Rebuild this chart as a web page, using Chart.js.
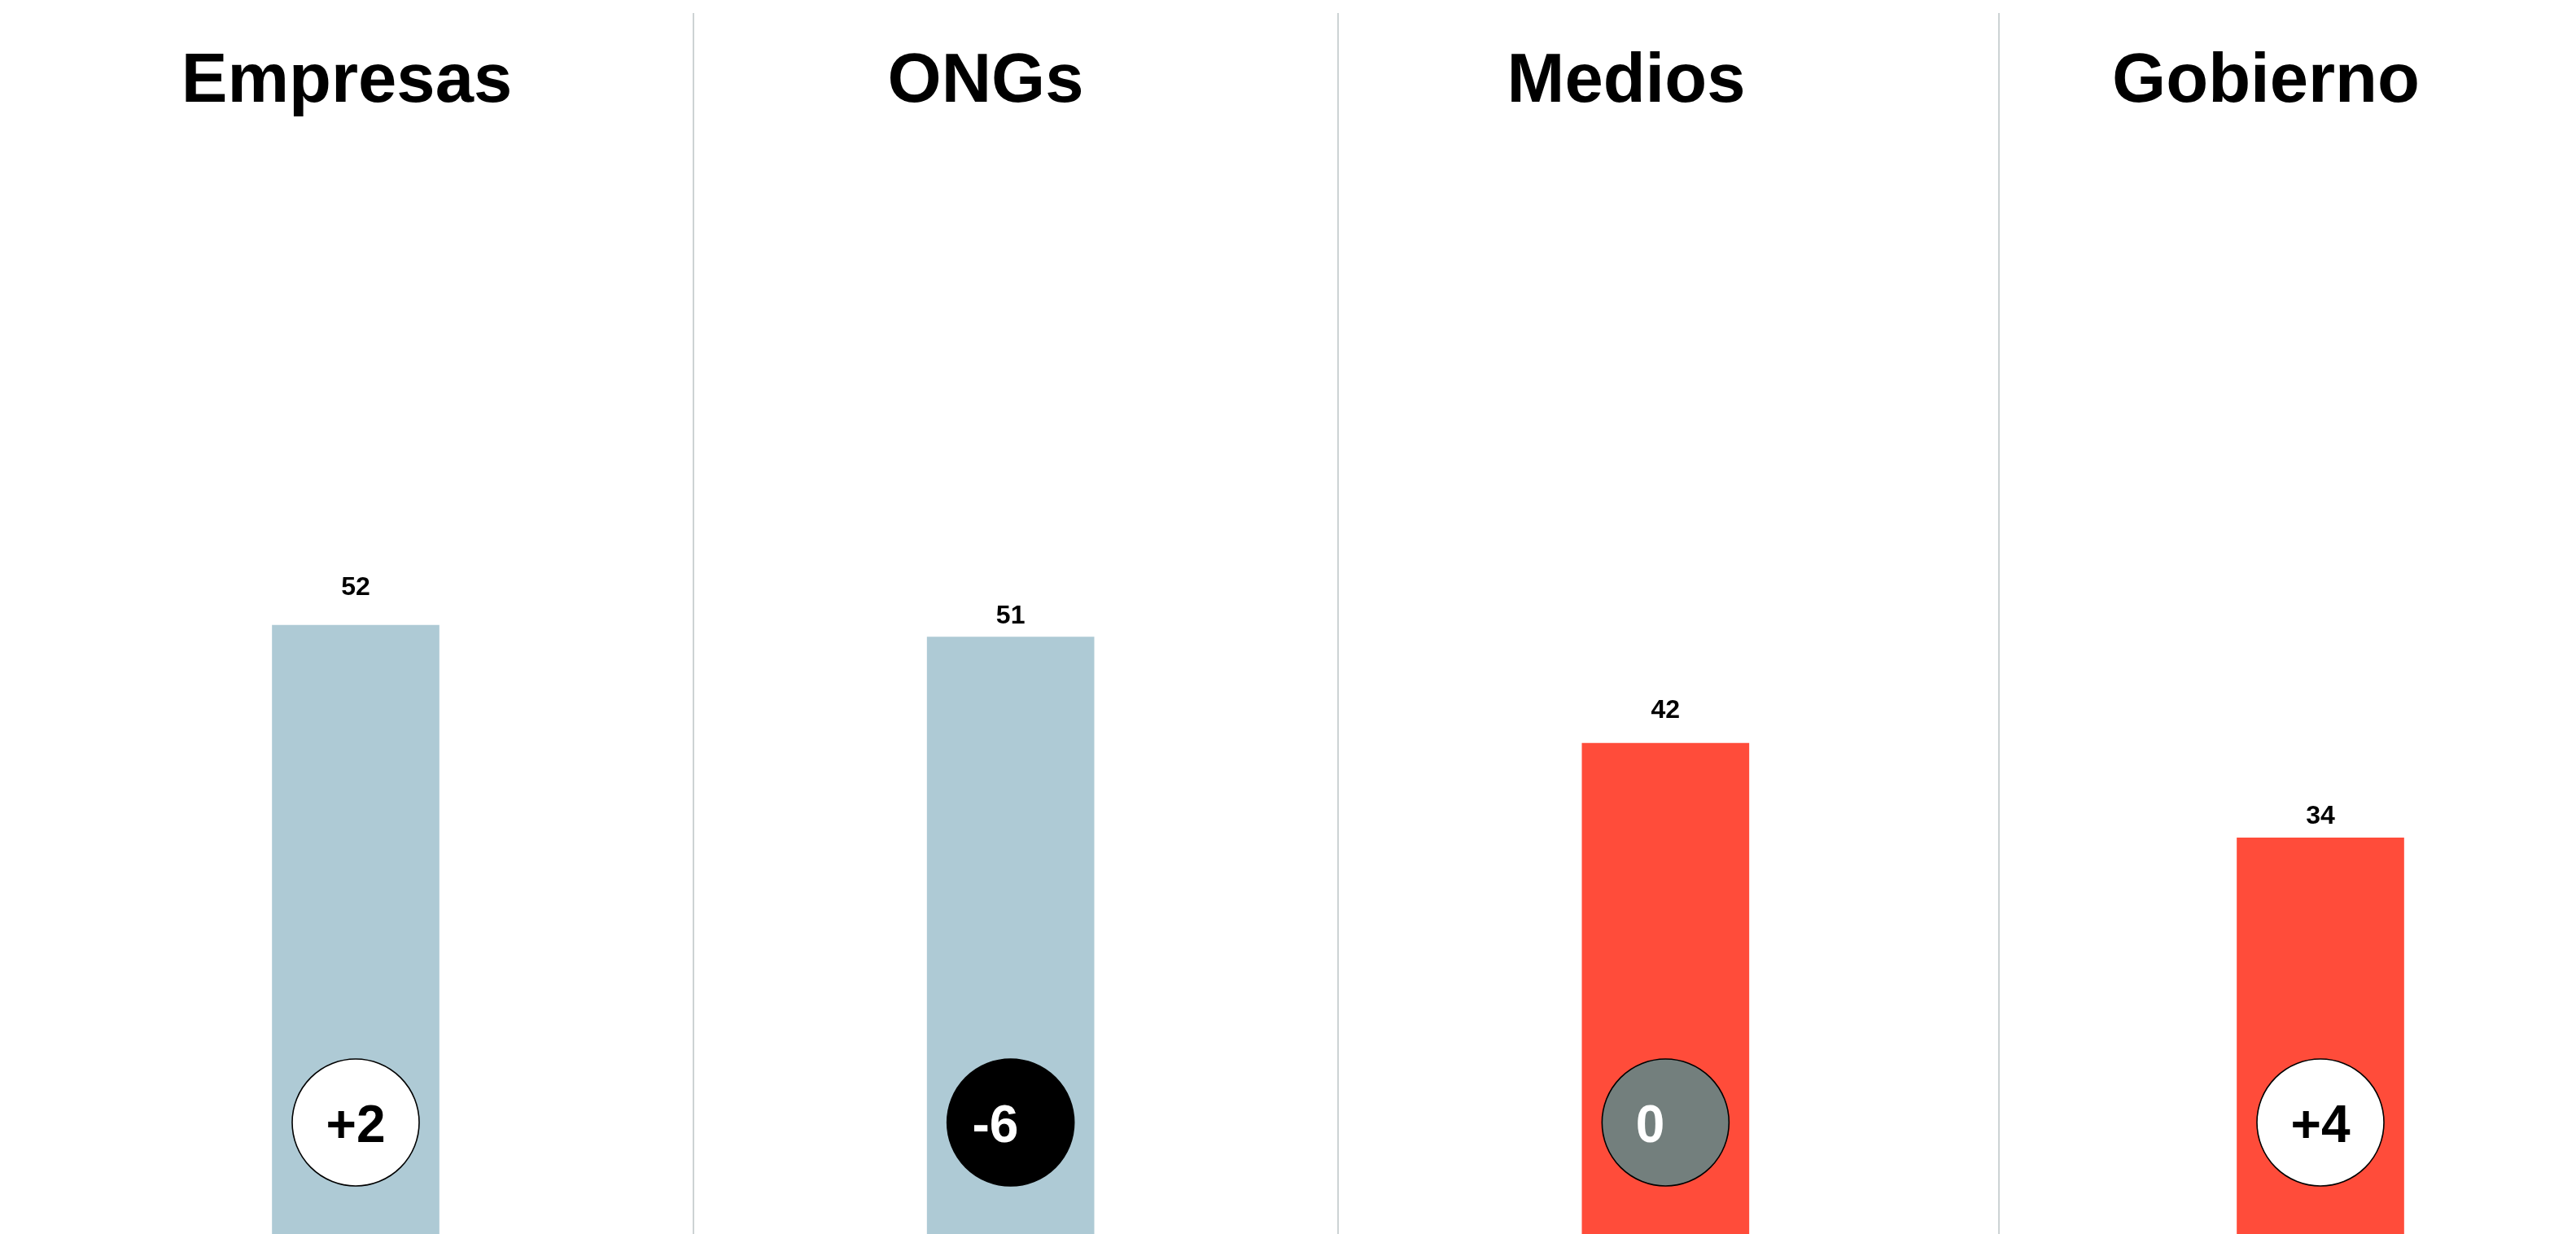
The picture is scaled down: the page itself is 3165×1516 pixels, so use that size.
<!DOCTYPE html>
<html>
<head>
<meta charset="utf-8">
<script src="https://cdn.jsdelivr.net/npm/chart.js@4/dist/chart.umd.min.js"></script>
<style>
  html, body { margin: 0; padding: 0; background: #ffffff; overflow: hidden; }
  #wrap { position: relative; width: 3165px; height: 1523px; }
</style>
</head>
<body>
<div id="wrap"><canvas id="chart"></canvas></div>
<script>
// data
const categories = ['Empresas', 'ONGs', 'Medios', 'Gobierno'];
const trustValues = [52, 51, 42, 34];
const trustChange = [2, -6, 0, 4];

// layout (pixels)
const titleX = [426, 1211, 1998, 2784];
const titleBaseline = 125;
const dividerX = [852, 1644, 2456];
const labelGap = [48, 28, 43, 29];
const circleY = 1379;
const circleR = 78;

const FONT = "'Liberation Sans', Arial, Helvetica, sans-serif";

function barColor(v) { return v >= 50 ? '#aecad5' : '#ff4c3a'; }
function circleFill(c) { return c > 0 ? '#ffffff' : (c < 0 ? '#000000' : '#737f7d'); }
function circleText(c) { return c > 0 ? '#000000' : '#ffffff'; }
function fmtChange(c) { return c > 0 ? '+' + c : String(c); }

const decorations = {
    id: 'decorations',
    beforeDatasetsDraw: function (chart) {
        const ctx = chart.ctx;
        ctx.save();
        ctx.strokeStyle = '#cdd3d4';
        ctx.lineWidth = 2;
        dividerX.forEach(function (x) {
            ctx.beginPath();
            ctx.moveTo(x, 16);
            ctx.lineTo(x, chart.height);
            ctx.stroke();
        });
        ctx.fillStyle = '#000000';
        ctx.font = 'bold 85px ' + FONT;
        ctx.textAlign = 'center';
        ctx.textBaseline = 'alphabetic';
        categories.forEach(function (name, i) {
            ctx.fillText(name, titleX[i], titleBaseline);
        });
        ctx.restore();
    },
    afterDatasetsDraw: function (chart) {
        const ctx = chart.ctx;
        const meta = chart.getDatasetMeta(0);
        ctx.save();
        ctx.textAlign = 'center';
        ctx.textBaseline = 'alphabetic';
        meta.data.forEach(function (bar, i) {
            // value label
            ctx.fillStyle = '#000000';
            ctx.font = 'bold 32px ' + FONT;
            const cy = bar.y - labelGap[i];
            ctx.fillText(String(trustValues[i]), bar.x, cy + 32 * 0.358);

            // change bubble
            const c = trustChange[i];
            ctx.beginPath();
            ctx.arc(bar.x, circleY, circleR, 0, Math.PI * 2);
            ctx.fillStyle = circleFill(c);
            ctx.fill();
            ctx.lineWidth = 1.6;
            ctx.strokeStyle = '#000000';
            ctx.stroke();
            ctx.fillStyle = circleText(c);
            ctx.font = 'bold 64px ' + FONT;
            // unsigned labels sit as if a '+' were still in front of them
            const shift = c > 0 ? 0 : ctx.measureText('+').width / 2;
            ctx.fillText(fmtChange(c), bar.x - shift, circleY + 1 + 64 * 0.358);
        });
        ctx.restore();
    }
};

new Chart(document.getElementById('chart'), {
    type: 'bar',
    data: {
        labels: categories,
        datasets: [{
            data: trustValues,
            backgroundColor: trustValues.map(barColor),
            borderWidth: 0,
            barThickness: 205,
            clip: false
        }]
    },
    options: {
        responsive: true,
        maintainAspectRatio: false,
        animation: false,
        layout: { padding: { left: 437, right: 314, top: 71, bottom: 0 } },
        plugins: {
            legend: { display: false },
            tooltip: { enabled: false }
        },
        scales: {
            x: { display: false, offset: false, grid: { display: false } },
            y: { display: false, min: 0, max: 100, grid: { display: false } }
        }
    },
    plugins: [decorations]
});
</script>
</body>
</html>
